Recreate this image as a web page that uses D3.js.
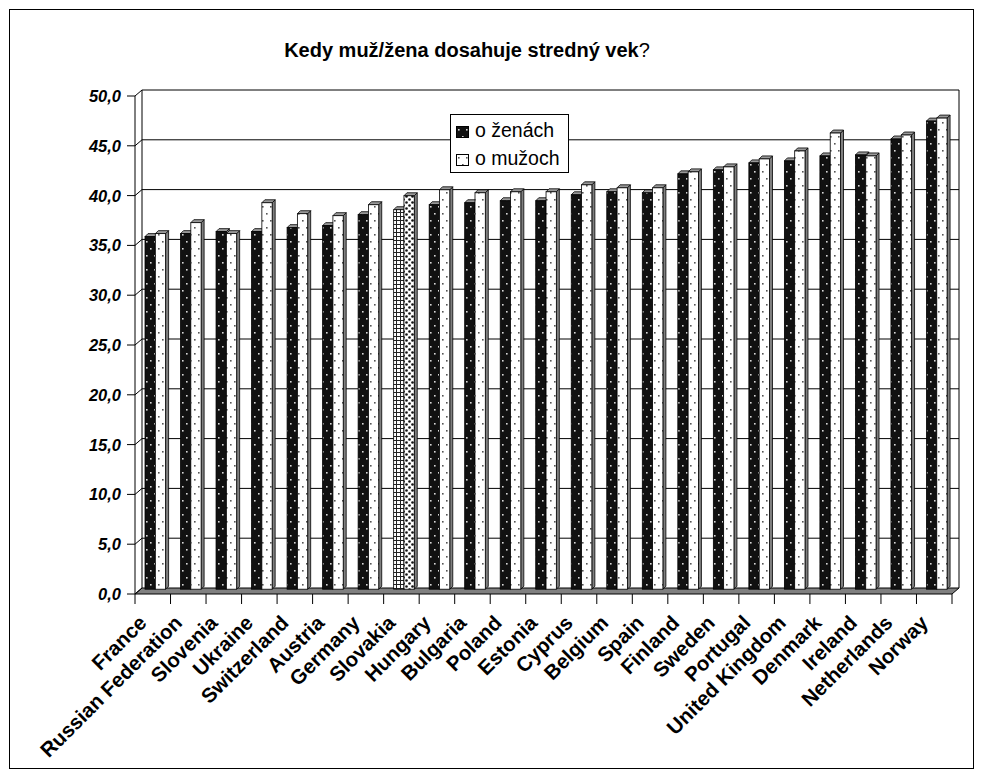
<!DOCTYPE html>
<html>
<head>
<meta charset="utf-8">
<script src="https://cdn.jsdelivr.net/npm/d3@7"></script>
<style>
  html, body { margin: 0; padding: 0; background: #fff; }
  svg { display: block; font-family: "Liberation Sans", Arial, sans-serif; }
</style>
</head>
<body>
<div id="chart"></div>
<script>
const categories = ["France","Russian Federation","Slovenia","Ukraine","Switzerland","Austria","Germany","Slovakia","Hungary","Bulgaria","Poland","Estonia","Cyprus","Belgium","Spain","Finland","Sweden","Portugal","United Kingdom","Denmark","Ireland","Netherlands","Norway"];
const womenValues = [35.4,35.7,35.9,35.9,36.3,36.5,37.6,38.1,38.6,38.8,39.0,39.0,39.6,39.9,39.8,41.7,42.1,42.8,43.0,43.5,43.6,45.2,47.0];
const menValues   = [35.7,36.8,35.7,38.8,37.7,37.5,38.6,39.5,40.1,39.8,39.9,39.9,40.6,40.3,40.3,41.9,42.4,43.2,44.0,45.8,43.5,45.6,47.3];
const seriesNames = ["o ženách", "o mužoch"];
const yTicks = [0,5,10,15,20,25,30,35,40,45,50];
const highlight = "Slovakia";

const W = 984, H = 778;
const svg = d3.select("#chart").append("svg").attr("width", W).attr("height", H);

const defs = svg.append("defs");
function dotPattern(id, bg, dot, r) {
  const p = defs.append("pattern").attr("id", id).attr("patternUnits", "userSpaceOnUse")
    .attr("width", 8).attr("height", 14);
  p.append("rect").attr("width", 8).attr("height", 14).attr("fill", bg);
  p.append("rect").attr("x", 2).attr("y", 3).attr("width", r).attr("height", r).attr("fill", dot);
  p.append("rect").attr("x", 6).attr("y", 10).attr("width", r).attr("height", r).attr("fill", dot);
}
dotPattern("pW", "#111", "#d8d8d8", 1.6);
dotPattern("pM", "#fff", "#555", 1.6);
(function(){
  const p = defs.append("pattern").attr("id", "pSW").attr("patternUnits", "userSpaceOnUse").attr("width", 4).attr("height", 4);
  p.append("rect").attr("width", 4).attr("height", 4).attr("fill", "#fff");
  p.append("rect").attr("x", 0).attr("y", 0).attr("width", 4).attr("height", 1).attr("fill", "#222");
  p.append("rect").attr("x", 0).attr("y", 0).attr("width", 1).attr("height", 4).attr("fill", "#222");
})();
(function(){
  const p = defs.append("pattern").attr("id", "pSM").attr("patternUnits", "userSpaceOnUse").attr("width", 6).attr("height", 6);
  p.append("rect").attr("width", 6).attr("height", 6).attr("fill", "#fff");
  p.append("circle").attr("cx", 1.5).attr("cy", 1.5).attr("r", 1.3).attr("fill", "#111");
  p.append("circle").attr("cx", 4.5).attr("cy", 4.5).attr("r", 1.3).attr("fill", "#111");
})();

svg.append("rect").attr("x", 9.5).attr("y", 9.5).attr("width", 964).attr("height", 759)
  .attr("fill", "#fff").attr("stroke", "#000").attr("stroke-width", 1);

const title = svg.append("text").attr("x", 467).attr("y", 57).attr("text-anchor", "middle")
  .attr("font-size", 20).attr("fill", "#000");
title.append("tspan").attr("font-weight", "bold").text("Kedy muž/žena dosahuje stredný vek");
title.append("tspan").text("?");

const x = d3.scaleBand().domain(categories).range([135, 952]).padding(0);
const y = d3.scaleLinear().domain([0, 50]).range([594, 96]);
const DX = 7, DY = -6;

const x0 = x.range()[0], x1 = x.range()[1];
svg.append("path")
  .attr("d", `M${x0},${y(0)} L${x1},${y(0)} L${x1+DX},${y(0)+DY} L${x0+DX},${y(0)+DY} Z`)
  .attr("fill", "#808080").attr("stroke", "#000").attr("stroke-width", 1);

svg.append("line").attr("x1", x0+DX).attr("x2", x0+DX).attr("y1", y(50)+DY).attr("y2", y(0)+DY).attr("stroke", "#000");
svg.append("line").attr("x1", x1+DX).attr("x2", x1+DX).attr("y1", y(50)+DY).attr("y2", y(0)+DY).attr("stroke", "#000");
svg.append("line").attr("x1", x0).attr("x2", x0).attr("y1", y(50)).attr("y2", y(0)).attr("stroke", "#000");

const grid = svg.append("g");
yTicks.forEach(t => {
  if (t > 0) {
    grid.append("line").attr("x1", x0+DX).attr("x2", x1+DX).attr("y1", y(t)+DY).attr("y2", y(t)+DY)
      .attr("stroke", "#000").attr("stroke-width", 1);
  }
  grid.append("line").attr("x1", x0).attr("x2", x0+DX).attr("y1", y(t)).attr("y2", y(t)+DY)
    .attr("stroke", "#000").attr("stroke-width", 1);
  grid.append("line").attr("x1", x0-8).attr("x2", x0).attr("y1", y(t)).attr("y2", y(t))
    .attr("stroke", "#000").attr("stroke-width", 1);
  grid.append("text").attr("x", 121).attr("y", y(t)).attr("dy", "0.36em")
    .attr("text-anchor", "end").attr("font-size", 16.5).attr("font-weight", "bold").attr("font-style", "italic")
    .text(d3.format(".1f")(t).replace(".", ","));
});

const barW = 10.3, bd = 3, depthShift = 4.8;
const bars = svg.append("g");
categories.forEach((c, i) => {
  [womenValues[i], menValues[i]].forEach((v, s) => {
    const bx = x(c) + 10 + s * barW;
    const base = y(0) - depthShift;
    const top = y(v) - depthShift;
    let fill;
    if (c === highlight) fill = s === 0 ? "url(#pSW)" : "url(#pSM)";
    else fill = s === 0 ? "url(#pW)" : "url(#pM)";
    bars.append("path").attr("d", `M${bx+barW},${top} L${bx+barW+bd},${top-bd} L${bx+barW+bd},${base-bd} L${bx+barW},${base} Z`)
      .attr("fill", "#808080").attr("stroke", "#000").attr("stroke-width", 0.8);
    bars.append("path").attr("d", `M${bx},${top} L${bx+barW},${top} L${bx+barW+bd},${top-bd} L${bx+bd},${top-bd} Z`)
      .attr("fill", "#999").attr("stroke", "#000").attr("stroke-width", 0.8);
    bars.append("rect").attr("x", bx).attr("y", top).attr("width", barW).attr("height", base - top)
      .attr("fill", fill).attr("stroke", "#000").attr("stroke-width", 0.8);
  });
});

const xa = svg.append("g");
categories.concat(["__end"]).forEach((c) => {
  const tx = c === "__end" ? x1 : x(c);
  xa.append("line").attr("x1", tx).attr("x2", tx).attr("y1", y(0)).attr("y2", y(0) + 10).attr("stroke", "#000");
});
categories.forEach(c => {
  const cx = x(c) + x.bandwidth() / 2;
  xa.append("text").attr("transform", `translate(${cx - 10},${619}) rotate(-45)`)
    .attr("text-anchor", "end").attr("dy", "0.35em")
    .attr("font-size", 20.5).attr("font-weight", "bold").text(c);
});

const lg = svg.append("g");
lg.append("rect").attr("x", 450.5).attr("y", 114.5).attr("width", 118).attr("height", 58)
  .attr("fill", "#fff").attr("stroke", "#000");
seriesNames.forEach((n, i) => {
  const yy = 126 + i * 28;
  lg.append("rect").attr("x", 456.5).attr("y", yy + 0.5).attr("width", 12).attr("height", 11)
    .attr("fill", i === 0 ? "url(#pW)" : "url(#pM)").attr("stroke", "#000");
  lg.append("text").attr("x", 475).attr("y", yy + 11).attr("font-size", 19.5).text(n);
});
</script>
</body>
</html>
